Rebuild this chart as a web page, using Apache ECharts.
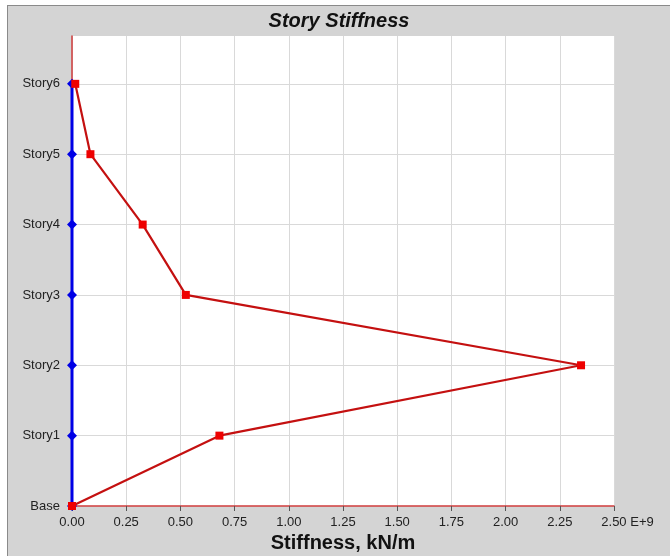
<!DOCTYPE html>
<html>
<head>
<meta charset="utf-8">
<script src="https://cdn.jsdelivr.net/npm/echarts@6/dist/echarts.min.js"></script>
<style>
	body { margin: 0; background: #fff; }
	#statistics { position: absolute; left: 7px; top: 5px; width: 662px; height: 550px;
		border-left: 1px solid #8a8a8a; border-top: 1px solid #8a8a8a; }
</style>
</head>
<body>
<div id="statistics"></div>
<script type="text/javascript">
	// story names, bottom to top
	var stories = ['Base', 'Story1', 'Story2', 'Story3', 'Story4', 'Story5', 'Story6'];
	// story stiffness, kN/m
	var stiffness = [0, 6.8e8, 2.348e9, 5.25e8, 3.26e8, 8.5e7, 1.5e7];
	// reference line at zero
	var baseLine = [0, 0, 0, 0, 0, 0, 0];

	var storyIdx = stories.map(function (s, i) { return i; });
	var redData = stiffness.map(function (v, i) { return [v, i]; });
	var blueData = baseLine.map(function (v, i) { return [v, i]; });

	var myChart = echarts.init(document.getElementById('statistics'));
	var option = {
		backgroundColor: '#d4d4d4',
		animation: false,
		title: {
			text: 'Story Stiffness',
			left: 'center',
			top: 0,
			textStyle: { fontFamily: 'Liberation Sans', fontSize: 20, fontWeight: 'bold', fontStyle: 'italic', color: '#111' }
		},
		grid: { left: 64, right: 56, top: 30, bottom: 50, outerBoundsMode: 'none', show: true, backgroundColor: '#fff', borderWidth: 0 },
		xAxis: {
			type: 'value',
			min: 0,
			max: 2.5e9,
			interval: 2.5e8,
			name: 'Stiffness, kN/m',
			nameLocation: 'middle',
			nameGap: 27,
			nameTextStyle: { fontFamily: 'Liberation Sans', fontSize: 20, fontWeight: 'bold', color: '#111' },
			axisLine: { lineStyle: { color: '#d03c3c', width: 1.5 } },
			axisTick: { show: true, length: 5, lineStyle: { color: '#555' } },
			splitLine: { show: true, lineStyle: { color: '#d9d9d9', width: 1 } },
			axisLabel: {
				fontFamily: 'Liberation Sans', fontSize: 13, color: '#222', margin: 10,
				formatter: function (v) {
					var t = (v / 1e9).toFixed(2);
					if (v >= 2.5e9) return '{e|' + t + ' E+9}';
					return t;
				},
				rich: { e: { fontFamily: 'Liberation Sans', fontSize: 13, color: '#222', padding: [0, 0, 0, 27] } }
			}
		},
		yAxis: {
			type: 'value',
			min: 0,
			max: 6.68,
			interval: 1,
			axisLine: { show: true, lineStyle: { color: '#d03c3c', width: 1.5 } },
			axisTick: { show: true, length: 4, lineStyle: { color: '#333' }, customValues: storyIdx },
			splitLine: { show: true, lineStyle: { color: '#d9d9d9', width: 1 } },
			axisLabel: {
				fontFamily: 'Liberation Sans', fontSize: 13, color: '#222', margin: 12,
				customValues: storyIdx,
				formatter: function (v) { return stories[Math.round(v)] || ''; }
			}
		},
		series: [
			{
				name: 'zero',
				type: 'line',
				data: blueData,
				symbol: 'diamond',
				symbolSize: 10,
				lineStyle: { color: '#0000e6', width: 3 },
				itemStyle: { color: '#0000e6' },
				z: 3
			},
			{
				name: 'Stiffness',
				type: 'line',
				data: redData,
				symbol: 'rect',
				symbolSize: 8,
				lineStyle: { color: '#c41010', width: 2.2 },
				itemStyle: { color: '#ee0000' },
				z: 4
			}
		]
	};
	myChart.setOption(option);
</script>
</body>
</html>
